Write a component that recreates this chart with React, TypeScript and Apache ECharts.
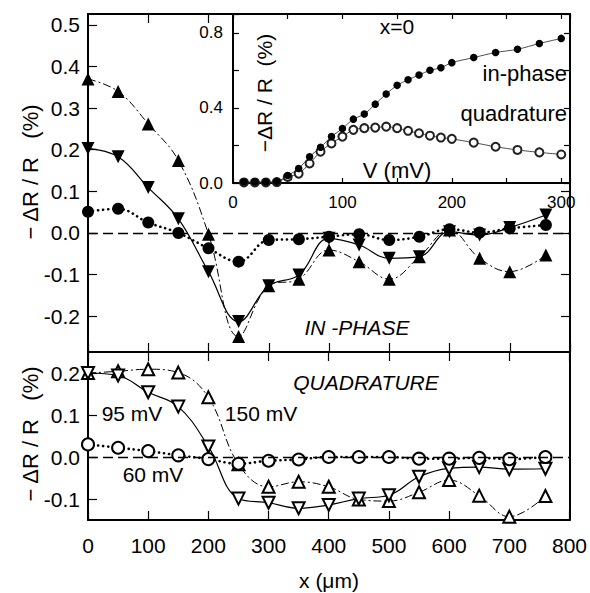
import React, { useEffect, useRef } from "react";
import * as echarts from "echarts";

// Position along the sample (µm)
const xPos = [0, 50, 100, 150, 200, 250, 300, 350, 400, 450, 500, 550, 600, 650, 700, 760];

// IN-PHASE (top panel), -ΔR/R (%)
const inPhase150 = [0.37, 0.34, 0.262, 0.174, -0.003, -0.249, -0.127, -0.111, -0.041, -0.069, -0.111, -0.057, 0.007, -0.061, -0.093, -0.053];
const inPhase95 = [0.203, 0.183, 0.109, 0.034, -0.093, -0.213, -0.127, -0.101, -0.013, -0.029, -0.061, -0.057, 0.003, -0.005, 0.013, 0.043];
const inPhase60 = [0.051, 0.058, 0.025, 0.0, -0.037, -0.069, -0.017, -0.015, -0.009, -0.003, -0.017, -0.009, 0.009, 0.001, 0.011, 0.019];

// QUADRATURE (bottom panel), -ΔR/R (%)
const quad150 = [0.2, 0.204, 0.209, 0.201, 0.142, -0.017, -0.071, -0.059, -0.071, -0.101, -0.105, -0.084, -0.055, -0.092, -0.142, -0.093];
const quad95 = [0.2, 0.194, 0.154, 0.12, 0.025, -0.099, -0.109, -0.122, -0.114, -0.099, -0.091, -0.047, -0.027, -0.024, -0.029, -0.028];
const quad60 = [0.03, 0.022, 0.014, 0.004, -0.005, -0.016, -0.009, -0.006, 0.0, 0.0, 0.0, -0.004, -0.004, -0.002, -0.005, 0.0];

// Inset: x = 0, versus bias V (mV)
const vBias = [10, 20, 30, 40, 50, 60, 70, 80, 90, 100, 110, 120, 130, 140, 150, 160, 170, 180, 190, 200, 220, 240, 260, 280, 300];
const insetInPhase = [0.005, 0.005, 0.005, 0.008, 0.04, 0.077, 0.14, 0.19, 0.247, 0.29, 0.34, 0.367, 0.42, 0.474, 0.52, 0.55, 0.575, 0.6, 0.614, 0.641, 0.668, 0.695, 0.712, 0.743, 0.77];
const insetQuad = [0.003, 0.003, 0.003, 0.005, 0.032, 0.05, 0.104, 0.167, 0.211, 0.247, 0.283, 0.292, 0.295, 0.3, 0.292, 0.278, 0.265, 0.252, 0.242, 0.235, 0.215, 0.193, 0.176, 0.163, 0.152];

// Tick values
const mainXTicks = [0, 100, 200, 300, 400, 500, 600, 700, 800];
const topYTicks = [-0.2, -0.1, 0, 0.1, 0.2, 0.3, 0.4, 0.5];
const bottomYTicks = [-0.1, 0, 0.1, 0.2];
const insetYLabels = [0, 0.4, 0.8];

const FONT = "'Liberation Sans', Arial, Helvetica, sans-serif";
const BLACK = "#000";

export default function App() {
  const ref = useRef<HTMLDivElement>(null);

  useEffect(() => {
    if (!ref.current) return;
    const chart = echarts.init(ref.current, null, { renderer: "svg" });

    const axisLine = { show: true, onZero: false, lineStyle: { color: BLACK, width: 2 } };
    const tickStyle = { color: BLACK, width: 1.2 };
    const pair = (xs: number[], ys: number[]) => xs.map((x, i) => [x, ys[i]]);

    const zeroLine = {
      silent: true,
      symbol: ["none", "none"],
      label: { show: false },
      lineStyle: { color: BLACK, type: [10, 5], width: 1.4 },
      data: [{ yAxis: 0 }],
    };

    const dotted = { color: BLACK, width: 2.6, type: [0.1, 5], cap: "round" };

    const option: any = {
      animation: false,
      backgroundColor: "#fff",
      textStyle: { fontFamily: FONT, color: BLACK },
      grid: [
        { left: 88, top: 14, width: 482, height: 338 },
        { left: 88, top: 352, width: 482, height: 168 },
        { left: 233, top: 14, width: 337, height: 169, z: 5, show: true, backgroundColor: "#fff", borderWidth: 0 },
      ],
      xAxis: [
        {
          gridIndex: 0, type: "value", min: 0, max: 800, interval: 100, position: "bottom",
          axisLine, axisTick: { inside: true, length: 9, lineStyle: tickStyle },
          axisLabel: { show: false }, splitLine: { show: false },
        },
        {
          gridIndex: 0, type: "value", min: 0, max: 800, interval: 100, position: "top",
          axisLine, axisTick: { inside: true, length: 9, lineStyle: tickStyle, customValues: [100, 200] },
          axisLabel: { show: false }, splitLine: { show: false },
        },
        {
          gridIndex: 1, type: "value", min: 0, max: 800, interval: 100, position: "bottom",
          axisLine, axisTick: { inside: true, length: 9, lineStyle: tickStyle },
          axisLabel: { show: true, fontSize: 21, margin: 15, color: BLACK, fontFamily: FONT, customValues: mainXTicks },
          splitLine: { show: false },
        },
        {
          gridIndex: 1, type: "value", min: 0, max: 800, interval: 100, position: "top",
          axisLine, axisTick: { inside: true, length: 9, lineStyle: tickStyle },
          axisLabel: { show: false }, splitLine: { show: false },
        },
        {
          gridIndex: 2, type: "value", min: 0, max: 308, interval: 50, position: "bottom", z: 6,
          axisLine, axisTick: { inside: true, length: 5, lineStyle: tickStyle },
          axisLabel: {
            show: true, fontSize: 17, margin: 11, color: BLACK, fontFamily: FONT,
            formatter: (v: number) => (v % 100 === 0 ? String(v) : ""),
          },
          splitLine: { show: false },
        },
        {
          gridIndex: 2, type: "value", min: 0, max: 308, interval: 50, position: "top", z: 6,
          axisLine, axisTick: { inside: true, length: 5, lineStyle: tickStyle },
          axisLabel: { show: false }, splitLine: { show: false },
        },
      ],
      yAxis: [
        {
          gridIndex: 0, type: "value", min: -0.286, max: 0.526, position: "left",
          axisLine, axisTick: { inside: true, length: 9, lineStyle: tickStyle, customValues: topYTicks },
          axisLabel: {
            show: true, fontSize: 21, margin: 8, color: BLACK, fontFamily: FONT, customValues: topYTicks,
            formatter: (v: number) => v.toFixed(1),
          },
          splitLine: { show: false },
        },
        {
          gridIndex: 0, type: "value", min: -0.286, max: 0.526, position: "right",
          axisLine, axisTick: { inside: true, length: 9, lineStyle: tickStyle, customValues: [-0.2, -0.1, 0, 0.1] },
          axisLabel: { show: false }, splitLine: { show: false },
        },
        {
          gridIndex: 1, type: "value", min: -0.15, max: 0.25, position: "left",
          axisLine, axisTick: { inside: true, length: 9, lineStyle: tickStyle, customValues: bottomYTicks },
          axisLabel: {
            show: true, fontSize: 21, margin: 8, color: BLACK, fontFamily: FONT, customValues: bottomYTicks,
            formatter: (v: number) => v.toFixed(1),
          },
          splitLine: { show: false },
        },
        {
          gridIndex: 1, type: "value", min: -0.15, max: 0.25, position: "right",
          axisLine, axisTick: { show: false }, axisLabel: { show: false }, splitLine: { show: false },
        },
        {
          gridIndex: 2, type: "value", min: 0, max: 0.9, interval: 0.2, position: "left", z: 6,
          axisLine, axisTick: { inside: true, length: 6, lineStyle: tickStyle },
          axisLabel: {
            show: true, fontSize: 17, margin: 10, color: BLACK, fontFamily: FONT, customValues: insetYLabels,
            formatter: (v: number) => v.toFixed(1),
          },
          splitLine: { show: false },
        },
        {
          gridIndex: 2, type: "value", min: 0, max: 0.9, interval: 0.2, position: "right", z: 6,
          axisLine, axisTick: { inside: true, length: 6, lineStyle: tickStyle },
          axisLabel: { show: false }, splitLine: { show: false },
        },
      ],
      series: [
        // IN-PHASE
        {
          name: "in-phase 150 mV", type: "line", xAxisIndex: 0, yAxisIndex: 0,
          data: pair(xPos, inPhase150), smooth: 0.4,
          symbol: "triangle", symbolSize: 13,
          itemStyle: { color: BLACK },
          lineStyle: { color: BLACK, width: 1, type: [8, 3, 2, 3] },
        },
        {
          name: "in-phase 95 mV", type: "line", xAxisIndex: 0, yAxisIndex: 0,
          data: pair(xPos, inPhase95), smooth: 0.4,
          symbol: "triangle", symbolRotate: 180, symbolSize: 13,
          itemStyle: { color: BLACK },
          lineStyle: { color: BLACK, width: 1.2, type: "solid" },
        },
        {
          name: "in-phase 60 mV", type: "line", xAxisIndex: 0, yAxisIndex: 0,
          data: pair(xPos, inPhase60), smooth: 0.4,
          symbol: "circle", symbolSize: 12,
          itemStyle: { color: BLACK },
          lineStyle: dotted,
          markLine: zeroLine,
        },
        // QUADRATURE
        {
          name: "quadrature 150 mV", type: "line", xAxisIndex: 2, yAxisIndex: 2,
          data: pair(xPos, quad150), smooth: 0.4,
          symbol: "emptyTriangle", symbolSize: 12,
          itemStyle: { color: BLACK, borderColor: BLACK, borderWidth: 1.2 },
          lineStyle: { color: BLACK, width: 1, type: [8, 3, 2, 3] },
        },
        {
          name: "quadrature 95 mV", type: "line", xAxisIndex: 2, yAxisIndex: 2,
          data: pair(xPos, quad95), smooth: 0.4,
          symbol: "emptyTriangle", symbolRotate: 180, symbolSize: 12,
          itemStyle: { color: BLACK, borderColor: BLACK, borderWidth: 1.2 },
          lineStyle: { color: BLACK, width: 1.2, type: "solid" },
        },
        {
          name: "quadrature 60 mV", type: "line", xAxisIndex: 2, yAxisIndex: 2,
          data: pair(xPos, quad60), smooth: 0.4,
          symbol: "emptyCircle", symbolSize: 12,
          itemStyle: { color: BLACK, borderColor: BLACK, borderWidth: 1.2 },
          lineStyle: dotted,
          markLine: zeroLine,
        },
        // INSET
        {
          name: "inset quadrature", type: "line", xAxisIndex: 4, yAxisIndex: 4, z: 7,
          data: pair(vBias, insetQuad), smooth: 0.3,
          symbol: "emptyCircle", symbolSize: 8,
          itemStyle: { color: "#222", borderColor: "#222", borderWidth: 0.8 },
          lineStyle: { color: "#222", width: 0.8 },
        },
        {
          name: "inset in-phase", type: "line", xAxisIndex: 4, yAxisIndex: 4, z: 8,
          data: pair(vBias, insetInPhase), smooth: 0.3,
          symbol: "circle", symbolSize: 7.5,
          itemStyle: { color: BLACK },
          lineStyle: { color: "#222", width: 0.8 },
        },
      ],
      graphic: [
        {
          type: "text", x: 30, y: 172, rotation: Math.PI / 2, z: 10,
          style: { text: "\u2212 \u0394R / R   (%)", fontSize: 22, fontFamily: FONT, fill: BLACK, textAlign: "center", textVerticalAlign: "middle" },
        },
        {
          type: "text", x: 30, y: 434, rotation: Math.PI / 2, z: 10,
          style: { text: "\u2212 \u0394R / R   (%)", fontSize: 22, fontFamily: FONT, fill: BLACK, textAlign: "center", textVerticalAlign: "middle" },
        },
        {
          type: "text", x: 264, y: 93, rotation: Math.PI / 2, z: 10,
          style: { text: "\u2212\u0394R / R  (%)", fontSize: 21, fontFamily: FONT, fill: BLACK, textAlign: "center", textVerticalAlign: "middle" },
        },
        {
          type: "text", x: 329, y: 580, z: 10,
          style: { text: "x (\u03bcm)", fontSize: 21, fontFamily: FONT, fill: BLACK, textAlign: "center", textVerticalAlign: "middle" },
        },
        {
          type: "text", x: 397, y: 26, z: 10,
          style: { text: "x=0", fontSize: 21, fontFamily: FONT, fill: BLACK, textAlign: "center", textVerticalAlign: "middle" },
        },
        {
          type: "text", x: 567, y: 73, z: 10,
          style: { text: "in-phase", fontSize: 22, fontFamily: FONT, fill: BLACK, textAlign: "right", textVerticalAlign: "middle" },
        },
        {
          type: "text", x: 567, y: 113, z: 10,
          style: { text: "quadrature", fontSize: 22, fontFamily: FONT, fill: BLACK, textAlign: "right", textVerticalAlign: "middle" },
        },
        {
          type: "text", x: 397, y: 170, z: 10,
          style: { text: "V (mV)", fontSize: 22, fontFamily: FONT, fill: BLACK, textAlign: "center", textVerticalAlign: "middle" },
        },
        {
          type: "text", x: 357, y: 327, z: 10,
          style: { text: "IN -PHASE", fontSize: 21, fontStyle: "italic", fontFamily: FONT, fill: BLACK, textAlign: "center", textVerticalAlign: "middle" },
        },
        {
          type: "text", x: 366, y: 382, z: 10,
          style: { text: "QUADRATURE", fontSize: 21, fontStyle: "italic", fontFamily: FONT, fill: BLACK, textAlign: "center", textVerticalAlign: "middle" },
        },
        {
          type: "text", x: 132, y: 413, z: 10,
          style: { text: "95 mV", fontSize: 21, fontFamily: FONT, fill: BLACK, textAlign: "center", textVerticalAlign: "middle" },
        },
        {
          type: "text", x: 261, y: 413, z: 10,
          style: { text: "150 mV", fontSize: 21, fontFamily: FONT, fill: BLACK, textAlign: "center", textVerticalAlign: "middle" },
        },
        {
          type: "text", x: 153, y: 474, z: 10,
          style: { text: "60 mV", fontSize: 21, fontFamily: FONT, fill: BLACK, textAlign: "center", textVerticalAlign: "middle" },
        },
      ],
    };

    chart.setOption(option);
    return () => chart.dispose();
  }, []);

  return (
    <div
      ref={ref}
      style={{ position: "fixed", left: 0, top: 0, width: 590, height: 593, background: "#fff" }}
    />
  );
}
